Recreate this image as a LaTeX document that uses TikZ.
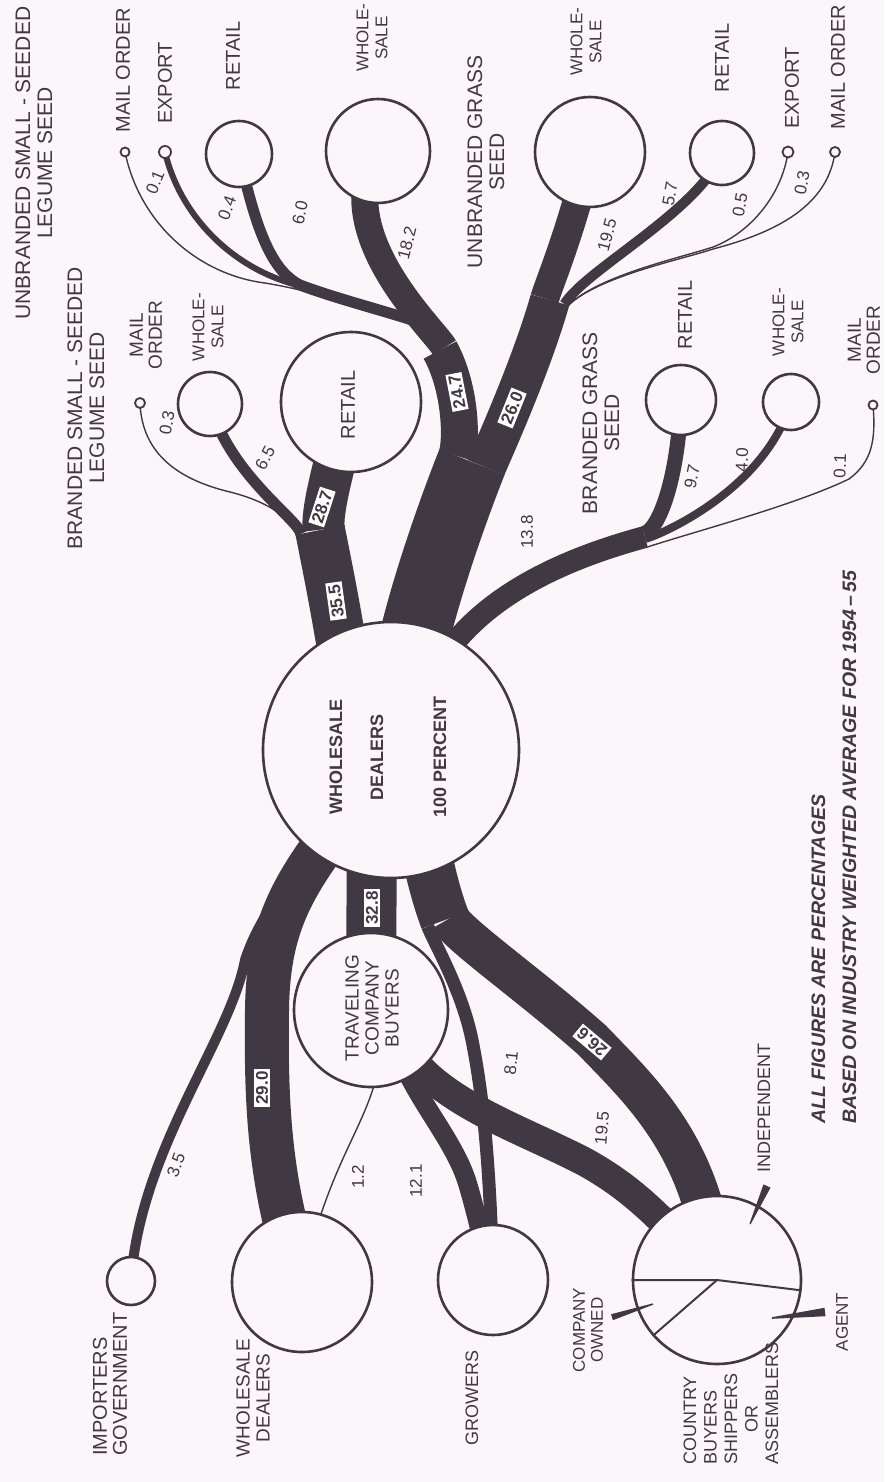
\documentclass[tikz,border=0pt]{standalone}
\usepackage{fontspec}
\setmainfont{Liberation Sans}
\definecolor{ink}{RGB}{64,56,66}
\definecolor{bg}{RGB}{250,246,249}
\pgfdeclarelayer{paper}
\pgfdeclarelayer{flows}
\pgfsetlayers{paper,flows,main}
\begin{document}
\begin{tikzpicture}[x=1pt,y=-1pt]
\tikzset{
  fl/.style={draw=ink,line width=#1pt,line cap=butt},
  ring/.style={circle,draw=ink,line width=2.6pt,fill=bg,inner sep=0pt,minimum size=#1pt},
  endpt/.style={circle,draw=ink,line width=1.8pt,fill=bg,inner sep=0pt,minimum size=#1pt},
  ttl/.style={rotate=90,text=ink,align=center,inner sep=0pt,font=\fontsize{21}{22}\selectfont},
  lbl/.style={rotate=90,text=ink,align=center,inner sep=0pt,font=\fontsize{20}{20}\selectfont},
  lblws/.style={rotate=90,text=ink,align=center,inner sep=0pt,font=\fontsize{17}{19}\selectfont},
  lblsm/.style={rotate=90,text=ink,align=center,inner sep=0pt,font=\fontsize{17}{18}\selectfont},
  val/.style={rotate=#1,text=ink,inner sep=0pt,font=\fontsize{17}{20}\selectfont},
  boxval/.style={rotate=#1,text=ink,fill=white,inner sep=2.2pt,font=\bfseries\fontsize{17}{20}\selectfont},
  divider/.style={draw=ink,line width=2pt},
  inner/.style={rotate=90,text=ink,inner sep=0pt,font=\bfseries\fontsize{18}{20}\selectfont},
}
\useasboundingbox (0,0) rectangle (884,1482);
\begin{pgfonlayer}{paper}
\fill[bg] (0,0) rectangle (884,1482);
\end{pgfonlayer}

% ---------- circles ----------
\node[ring=256] (wdm) at (391,750) {};
\node[ring=140] (blret) at (351,402) {};
\node[ring=64] (blws) at (210,404) {};
\node[endpt=10] (blmo) at (140,403) {};
\node[ring=104] (ulws) at (378,151) {};
\node[ring=66] (ulret) at (239,154) {};
\node[endpt=12] (ulexp) at (165,152) {};
\node[endpt=9] (ulmo) at (125,152) {};
\node[ring=110] (ugws) at (590,152) {};
\node[ring=64] (ugret) at (722,153) {};
\node[endpt=11] (ugexp) at (788,152) {};
\node[endpt=10] (ugmo) at (835,152) {};
\node[ring=70] (bgret) at (681,400) {};
\node[ring=56] (bgws) at (791,402) {};
\node[endpt=9] (bgmo) at (873,405) {};
\node[ring=48] (imp) at (131,1281) {};
\node[ring=140] (wds) at (302,1282) {};
\node[ring=154] (tcb) at (371,1010) {};
\node[ring=110] (grow) at (493,1280) {};
\node[ring=168] (cb) at (717,1280) {};

% ---------- junction coordinates ----------
\coordinate (m1) at (350,700);
\coordinate (m2) at (403,700);
\coordinate (m3) at (430,680);
\coordinate (m4) at (335,830);
\coordinate (m5) at (320,840);
\coordinate (m6) at (372,800);
\coordinate (m7) at (418,790);
\coordinate (jA) at (320,530);
\coordinate (jA1) at (323.9,529.2);
\coordinate (jA2) at (300.9,533.8);
\coordinate (jA3) at (296.2,534.8);
\coordinate (jT) at (472,462);
\coordinate (jT1) at (456.7,455.9);
\coordinate (jT2) at (485.9,467.5);
\coordinate (jU) at (440,350);
\coordinate (jU1) at (444.4,347.6);
\coordinate (jU2) at (430,326);
\coordinate (jG) at (550,300);
\coordinate (jG1) at (544.7,298.5);
\coordinate (jG2) at (564.4,304.1);
\coordinate (jG3) at (568.3,305.2);
\coordinate (jB) at (645,537);
\coordinate (jB1) at (644.1,533.6);
\coordinate (jB2) at (645.5,538.9);
\coordinate (jB3) at (647.7,546.9);
\coordinate (jR) at (445,920);
\coordinate (jR1) at (427.7,926.4);
\coordinate (jR2) at (449.7,918.3);
\coordinate (t1) at (395,1045);
\coordinate (t2) at (400,1040);
\coordinate (t3) at (378,1070);

% ---------- flows ----------
\begin{pgfonlayer}{flows}
% branded small-seeded legume
\draw[fl=50] (m1) .. controls (340,630) and (330,580) .. (jA);
\draw[fl=42] (jA1) .. controls (321,514.5) and (332,470) .. (blret.center);
\draw[fl=11] (jA2) .. controls (298,519) and (230,475) .. (blws.center);
\draw[fl=1.4] (jA3) .. controls (293,520) and (270,502) .. (230,492) .. controls (180,480) and (142,455) .. (blmo.center);
% main trunk
\draw[fl=70] (m2) .. controls (408,640) and (445,530) .. (jT);
% unbranded small-seeded legume
\draw[fl=37] (jT1) .. controls (461.5,443.8) and (462,390) .. (jU);
\draw[fl=27] (jU1) .. controls (434.8,330.1) and (328,232) .. (ulws.center);
\draw[fl=11] (ulret.center) .. controls (255,225) and (270,270) .. (300,285) .. controls (340,300) and (390,312) .. (jU2);
\draw[fl=6] (ulexp.center) .. controls (180,215) and (230,265) .. (290,283) .. controls (335,296) and (390,313) .. (jU2);
\draw[fl=1.4] (ulmo.center) .. controls (140,225) and (200,275) .. (265,283) .. controls (320,292) and (390,315) .. (jU2);
% unbranded grass
\draw[fl=40] (jT2) .. controls (490.7,455.4) and (530,370) .. (jG);
\draw[fl=29] (jG1) .. controls (548.8,284) and (572,230) .. (ugws.center);
\draw[fl=10] (jG2) .. controls (585,270) and (700,210) .. (ugret.center);
\draw[fl=1.4] (jG3) .. controls (600,275) and (680,258) .. (713,247) .. controls (750,233) and (782,195) .. (ugexp.center);
\draw[fl=1.4] (jG3) .. controls (600,276) and (680,260) .. (713,249) .. controls (778,232) and (828,205) .. (ugmo.center);
% branded grass
\draw[fl=22] (m3) .. controls (470,600) and (560,560) .. (jB);
\draw[fl=15] (jB1) .. controls (658.6,529.7) and (678,480) .. (bgret.center);
\draw[fl=8] (jB2) .. controls (660,535) and (765,490) .. (bgws.center);
\draw[fl=1.4] (jB3) .. controls (700,530) and (795,505) .. (849,479) .. controls (872,462) and (876,440) .. (bgmo.center);
% inputs
\draw[fl=44] (m4) .. controls (290,890) and (268,930) .. (267,1010) .. controls (266,1100) and (268,1180) .. (wds.center);
\draw[fl=10] (m5) .. controls (285,885) and (258,920) .. (245,960) .. controls (230,1040) and (140,1150) .. (imp.center);
\draw[fl=50] (m6) -- (tcb.center);
\draw[fl=50] (m7) .. controls (422,840) and (432,885) .. (jR);
\draw[fl=13] (jR1) .. controls (432.9,940.5) and (462,990) .. (472,1040) .. controls (484,1100) and (490,1170) .. (grow.center);
\draw[fl=40] (jR2) .. controls (454.9,932.4) and (530,985) .. (592,1040) .. controls (645,1095) and (705,1150) .. (cb.center);
\draw[fl=19] (t1) .. controls (415,1100) and (455,1140) .. (468,1185) .. controls (476,1212) and (482,1240) .. (grow.center);
\draw[fl=29] (t2) .. controls (430,1100) and (520,1128) .. (585,1162) .. controls (630,1187) and (660,1215) .. (cb.center);
\draw[fl=1.4] (t3) .. controls (365,1130) and (330,1160) .. (wds.center);
\end{pgfonlayer}

% ---------- country buyers dividers and pointers ----------
\draw[divider] (cb.west) -- (cb.center) -- (cb.-7);
\draw[divider] (cb.center) -- (cb.221);
\fill[ink] (611.1,1314.2) -- (612.9,1320.2) -- (653.3,1304.6) -- (652.7,1303.4) -- cycle;
\fill[ink] (825.5,1316.2) -- (824.5,1307.8) -- (771.9,1317.2) -- (772.1,1318.8) -- cycle;
\fill[ink] (770.5,1187.6) -- (763.5,1184.4) -- (749.5,1223.6) -- (750.5,1224.4) -- cycle;

% ---------- circle texts ----------
\node[inner] (wdmA) at (336,757) {WHOLESALE};
\node[inner] (wdmB) at (377,757) {DEALERS};
\node[inner] (wdmC) at (440,757) {100 PERCENT};
\node[lbl,font=\fontsize{19}{20}\selectfont] (tcbtxt) at (372,1008) {TRAVELING\\COMPANY\\BUYERS};
\node[lbl] (blrettxt) at (348,405) {RETAIL};

% ---------- titles ----------
\node[ttl] (ulT) at (34,163) {UNBRANDED SMALL - SEEDED\\LEGUME SEED};
\node[ttl] (blT) at (86,408) {BRANDED SMALL - SEEDED\\LEGUME SEED};
\node[ttl] (ugT) at (486,162) {UNBRANDED GRASS\\SEED};
\node[ttl] (bgT) at (601,423) {BRANDED GRASS\\SEED};

% ---------- outlet labels ----------
\node[lbl] (ulmoT) at (123,70) {MAIL ORDER};
\node[lbl] (ulexpT) at (165,83) {EXPORT};
\node[lbl] (ulretT) at (233,56) {RETAIL};
\node[lblws] (ulwsT) at (372,38) {WHOLE-\\SALE};
\node[lbl,font=\fontsize{19}{19}\selectfont] (blmoT) at (146,335) {MAIL\\ORDER};
\node[lblws] (blwsT) at (208,327) {WHOLE-\\SALE};
\node[lblws] (ugwsT) at (586,42) {WHOLE-\\SALE};
\node[lbl] (ugretT) at (722,58) {RETAIL};
\node[lbl] (ugexpT) at (792,88) {EXPORT};
\node[lbl] (ugmoT) at (838,67) {MAIL ORDER};
\node[lbl] (bgretT) at (685,315) {RETAIL};
\node[lblws] (bgwsT) at (788,322) {WHOLE-\\SALE};
\node[lbl,font=\fontsize{19}{19}\selectfont] (bgmoT) at (864,340) {MAIL\\ORDER};

% ---------- source labels ----------
\node[lbl,anchor=west,align=left] (impT) at (110,1456) {IMPORTERS\\GOVERNMENT};
\node[lbl,font=\fontsize{19}{20}\selectfont] (wdsT) at (253,1398) {WHOLESALE\\DEALERS};
\node[lbl,font=\fontsize{18}{20}\selectfont] (growT) at (472,1398) {GROWERS};
\node[lblsm] (coT) at (588,1330) {COMPANY\\OWNED};
\node[lblsm] (agT) at (842,1322) {AGENT};
\node[lblsm,font=\fontsize{18}{20}\selectfont] (indT) at (764,1108) {INDEPENDENT};
\node[lbl,anchor=west,align=left,font=\fontsize{18}{20.5}\selectfont] (cbT) at (731,1465) {COUNTRY\\BUYERS\\SHIPPERS\\\hspace*{32pt}OR\\ASSEMBLERS};

% ---------- note ----------
\node[rotate=90,anchor=west,align=left,text=ink,inner sep=0pt,font=\bfseries\itshape\fontsize{19.5}{31}\selectfont] (note) at (834,1124) {ALL FIGURES ARE PERCENTAGES\\BASED ON INDUSTRY WEIGHTED AVERAGE FOR 1954\,--\,55};

% ---------- values ----------
\node[val=68] (v1) at (155,182) {0.1};
\node[val=70] (v2) at (227,208) {0.4};
\node[val=78] (v3) at (300,213) {6.0};
\node[val=76] (v4) at (407,243) {18.2};
\node[val=80] (v5) at (167,423) {0.3};
\node[val=62] (v6) at (265,458) {6.5};
\node[val=75] (v7) at (607,235) {19.5};
\node[val=80] (v8) at (670,194) {5.7};
\node[val=80] (v9) at (740,205) {0.5};
\node[val=80] (v10) at (802,183) {0.3};
\node[val=90] (v11) at (527,532) {13.8};
\node[val=78] (v12) at (692,477) {9.7};
\node[val=88] (v13) at (742,460) {4.0};
\node[val=88] (v14) at (840,466) {0.1};
\node[val=70] (v15) at (176,1165) {3.5};
\node[val=90] (v16) at (358,1177) {1.2};
\node[val=90] (v17) at (416,1181) {12.1};
\node[val=84] (v18) at (511,1063) {8.1};
\node[val=85] (v19) at (602,1128) {19.5};

\node[boxval=98] (b1) at (336,601) {35.5};
\node[boxval=72] (b2) at (322,507) {28.7};
\node[boxval=101] (b3) at (457,392) {24.7};
\node[boxval=68] (b4) at (512,408) {26.0};
\node[boxval=90] (b5) at (372,908) {32.8};
\node[boxval=90] (b6) at (262,1088) {29.0};
\node[boxval=140] (b7) at (592,1042) {26.6};
\end{tikzpicture}
\end{document}
